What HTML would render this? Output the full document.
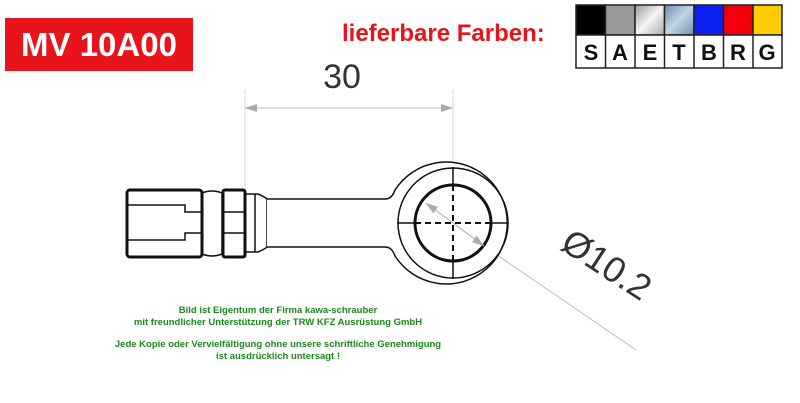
<!DOCTYPE html>
<html><head><style>
body{margin:0;width:800px;height:403px;background:#fff;overflow:hidden;position:relative;font-family:"Liberation Sans",sans-serif}
.t{position:absolute;left:5px;top:18px;width:188px;height:53px;background:#e8141c;color:#fff;font-weight:bold;font-size:33px;line-height:53px;text-align:center}
.lf{position:absolute;left:342px;top:20px;color:#e8141c;font-weight:bold;font-size:24px}
.g{position:absolute;left:100px;width:356px;text-align:center;color:#1a8a1a;font-weight:bold;font-size:9.5px;line-height:11.5px}
</style></head><body>
<div class="t">MV 10A00</div>
<div class="lf">lieferbare Farben:</div>
<svg style="position:absolute;left:0;top:0" width="800" height="403">
<defs>
<linearGradient id="e" x1="0" y1="0" x2="1" y2="1"><stop offset="0" stop-color="#999"/><stop offset=".5" stop-color="#f4f4f4"/><stop offset="1" stop-color="#aaa"/></linearGradient>
<linearGradient id="ti" x1="0" y1="0" x2="1" y2="1"><stop offset="0" stop-color="#6d8fb0"/><stop offset=".5" stop-color="#c4d4e4"/><stop offset="1" stop-color="#6d8fb0"/></linearGradient>
<marker id="a" markerWidth="12" markerHeight="8" refX="12" refY="4" orient="auto" markerUnits="userSpaceOnUse"><path d="M0,0L12,4L0,8z" fill="#aaa"/></marker>
</defs>
<g stroke="#222" stroke-width="1.5">
<rect x="576" y="5" width="29.5" height="30" fill="#000"/>
<rect x="605.5" y="5" width="29.5" height="30" fill="#999"/>
<rect x="635" y="5" width="29.5" height="30" fill="url(#e)"/>
<rect x="664.5" y="5" width="29.5" height="30" fill="url(#ti)"/>
<rect x="694" y="5" width="29.5" height="30" fill="#0a1ff0"/>
<rect x="723.5" y="5" width="29.5" height="30" fill="#f5000a"/>
<rect x="753" y="5" width="29" height="30" fill="#fccc00"/>
<rect x="576" y="35" width="206" height="33" fill="#fff"/>
<path d="M605.5 35V68M635 35V68M664.5 35V68M694 35V68M723.5 35V68M753 35V68"/>
</g>
<g font-family="Liberation Sans" font-weight="bold" font-size="22" text-anchor="middle" fill="#111">
<text x="591" y="60">S</text><text x="620" y="60">A</text><text x="650" y="60">E</text><text x="679" y="60">T</text><text x="709" y="60">B</text><text x="738" y="60">R</text><text x="767" y="60">G</text>
</g>
<!-- dimension -->
<g stroke="#bbb" stroke-width="1" fill="none">
<line x1="245" y1="90" x2="245" y2="190" stroke-dasharray="1,1"/>
<line x1="453" y1="90" x2="453" y2="160" stroke-dasharray="1,1"/>
<line x1="349" y1="108" x2="245" y2="108" marker-end="url(#a)"/>
<line x1="349" y1="108" x2="453" y2="108" marker-end="url(#a)"/>
<line x1="453" y1="223" x2="426" y2="203" marker-end="url(#a)"/>
<line x1="453" y1="223" x2="484" y2="246" marker-end="url(#a)"/>
<line x1="484" y1="246" x2="636" y2="350"/>
</g>
<text x="342" y="88" font-size="34" text-anchor="middle" fill="#333">30</text>
<text x="600" y="275" font-size="36" fill="#333" text-anchor="middle" transform="rotate(33 600 275)">Ø10.2</text>
<!-- part -->
<g stroke="#111" fill="none">
<rect x="127" y="190" width="75" height="67" rx="3" stroke-width="3"/>
<path d="M128 205H185V212H202M128 240H185V233H202" stroke-width="1.5"/>
<path d="M202 193Q212 189 222 193V254Q212 258 202 254" stroke-width="1.5"/>
<rect x="223" y="190" width="22" height="67" rx="2" stroke-width="3"/>
<path d="M223 212H245M223 233H245" stroke-width="1.5"/>
<path d="M245 194H258Q265 197 267 199V247Q265 249 258 252H245M255 194V252" stroke-width="1.5"/>
<path d="M267 199H385Q392 199 395 190A61 61 0 1 1 395 256Q392 247 385 247H267" stroke-width="1.5" fill="#fff"/>
<circle cx="453" cy="223" r="55" stroke-width="1.5"/>
<circle cx="453" cy="223" r="38" stroke-width="3"/>
<path d="M397 223H415M491 223H509M453 167V185M453 261V279" stroke-width="1.5"/>
<path d="M415 223H491M453 185V261" stroke-width="2" stroke-dasharray="6,4"/>
</g>
<g stroke="#aaa" stroke-width="1" fill="none">
<line x1="453" y1="223" x2="426" y2="203" marker-end="url(#a)"/>
<line x1="453" y1="223" x2="484" y2="246" marker-end="url(#a)"/>
</g>
</svg>
<div class="g" style="top:305px">Bild ist Eigentum der Firma kawa-schrauber<br>mit freundlicher Unterstützung der TRW KFZ Ausrüstung GmbH</div>
<div class="g" style="top:339px">Jede Kopie oder Vervielfältigung ohne unsere schriftliche Genehmigung<br>ist ausdrücklich untersagt !</div>
</body></html>
